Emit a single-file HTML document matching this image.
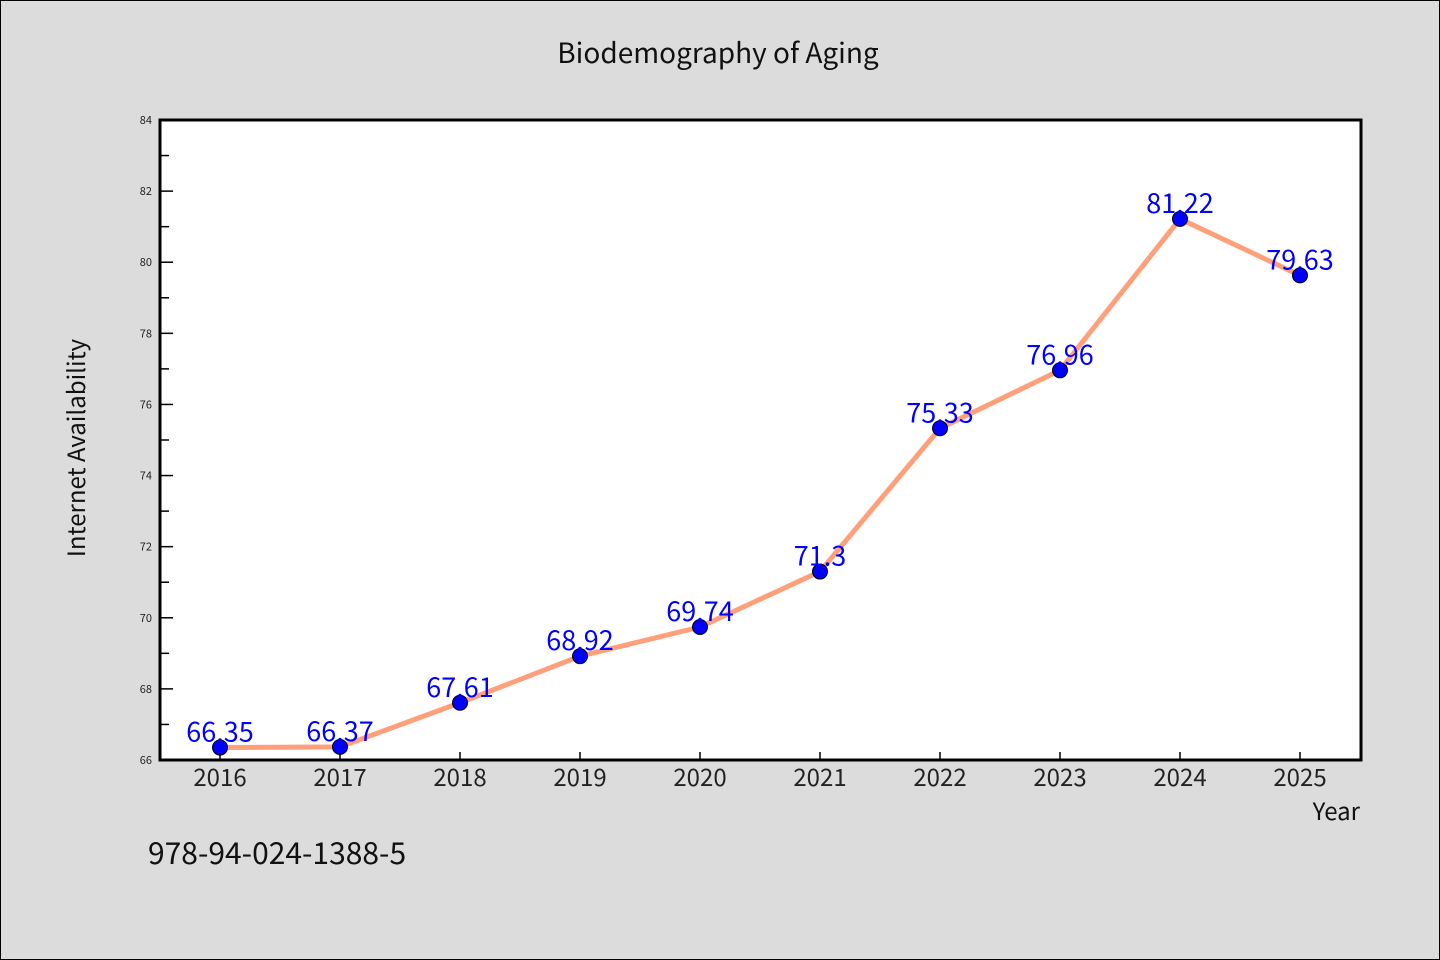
<!DOCTYPE html>
<html><head><meta charset="utf-8"><style>
body{margin:0;background:#dcdcdc;}
svg{display:block;font-family:"WenQuanYi Zen Hei Mono","WenQuanYi Zen Hei","Noto Sans CJK SC","DejaVu Sans Mono",sans-serif;}
</style></head><body>
<svg width="1440" height="960">
<rect x="0.5" y="0.5" width="1439" height="959" fill="#dcdcdc" stroke="#000"/>
<text x="718" y="63" text-anchor="middle" font-size="28" fill="#111">Biodemography of Aging</text>
<rect x="160" y="120" width="1201" height="640" fill="#fff" stroke="#000" stroke-width="3"/>
<g id="yax"></g>
<g id="xax"></g>
<g id="series"></g>
<text transform="translate(85,448) rotate(-90)" text-anchor="middle" font-size="24" fill="#111">Internet Availability</text>
<text x="1360" y="820" text-anchor="end" font-size="24" fill="#111">Year</text>
<text x="148" y="864" font-size="30" fill="#111">978-94-024-1388-5</text>
</svg>
<script>
const years=[2016,2017,2018,2019,2020,2021,2022,2023,2024,2025];
const values=[66.35,66.37,67.61,68.92,69.74,71.3,75.33,76.96,81.22,79.63];
const labels=["66.35","66.37","67.61","68.92","69.74","71.3","75.33","76.96","81.22","79.63"];
const yTicks=[66,68,70,72,74,76,78,80,82,84];
(function(){
const NS="http://www.w3.org/2000/svg";
const yMin=66,yMax=84,plotTop=120,plotBot=760;
const ys=v=>plotBot-(v-yMin)/(yMax-yMin)*(plotBot-plotTop);
const xs=yr=>220+(yr-2016)*120;
function mk(t,a,p){const e=document.createElementNS(NS,t);for(const k in a)e.setAttribute(k,a[k]);p.appendChild(e);return e;}
const yax=document.getElementById('yax'),xax=document.getElementById('xax'),ser=document.getElementById('series');
yTicks.forEach((v,i)=>{
  const y=ys(v);
  const l=mk('line',{x1:160,x2:173,y1:y,y2:y,stroke:'#000','stroke-width':1.5},yax);
  
  
  const t=mk('text',{x:152,y:y+4,'text-anchor':'end','font-size':11,fill:'#222'},yax);
  t.textContent=v;
  
  
  if(i<yTicks.length-1){
    const ym=ys(v+1);
    const m=mk('line',{x1:160,x2:169,y1:ym,y2:ym,stroke:'#000','stroke-width':1.5},yax);
    
    
  }
});
years.forEach(yr=>{
  const x=xs(yr);
  const l=mk('line',{x1:x,x2:x,y1:760,y2:752,stroke:'#000','stroke-width':1.5},xax);
  
  
  const t=mk('text',{x:x,y:786,'text-anchor':'middle','font-size':24,fill:'#222'},xax);
  t.textContent=yr;
  
  
});
const pl=mk('polyline',{points:years.map((yr,i)=>xs(yr)+','+ys(values[i])).join(' '),fill:'none',stroke:'#ffa07a','stroke-width':5},ser);


years.forEach((yr,i)=>{
  const c=mk('circle',{cx:xs(yr),cy:ys(values[i]),r:7.5,fill:'#0000ff',stroke:'#000','stroke-width':1},ser);
  
  
});
years.forEach((yr,i)=>{
  const t=mk('text',{x:xs(yr),y:ys(values[i])-6,'text-anchor':'middle','font-size':27,fill:'#0000ff'},ser);
  t.textContent=labels[i];
  
  
});
})();
</script>
</body></html>
